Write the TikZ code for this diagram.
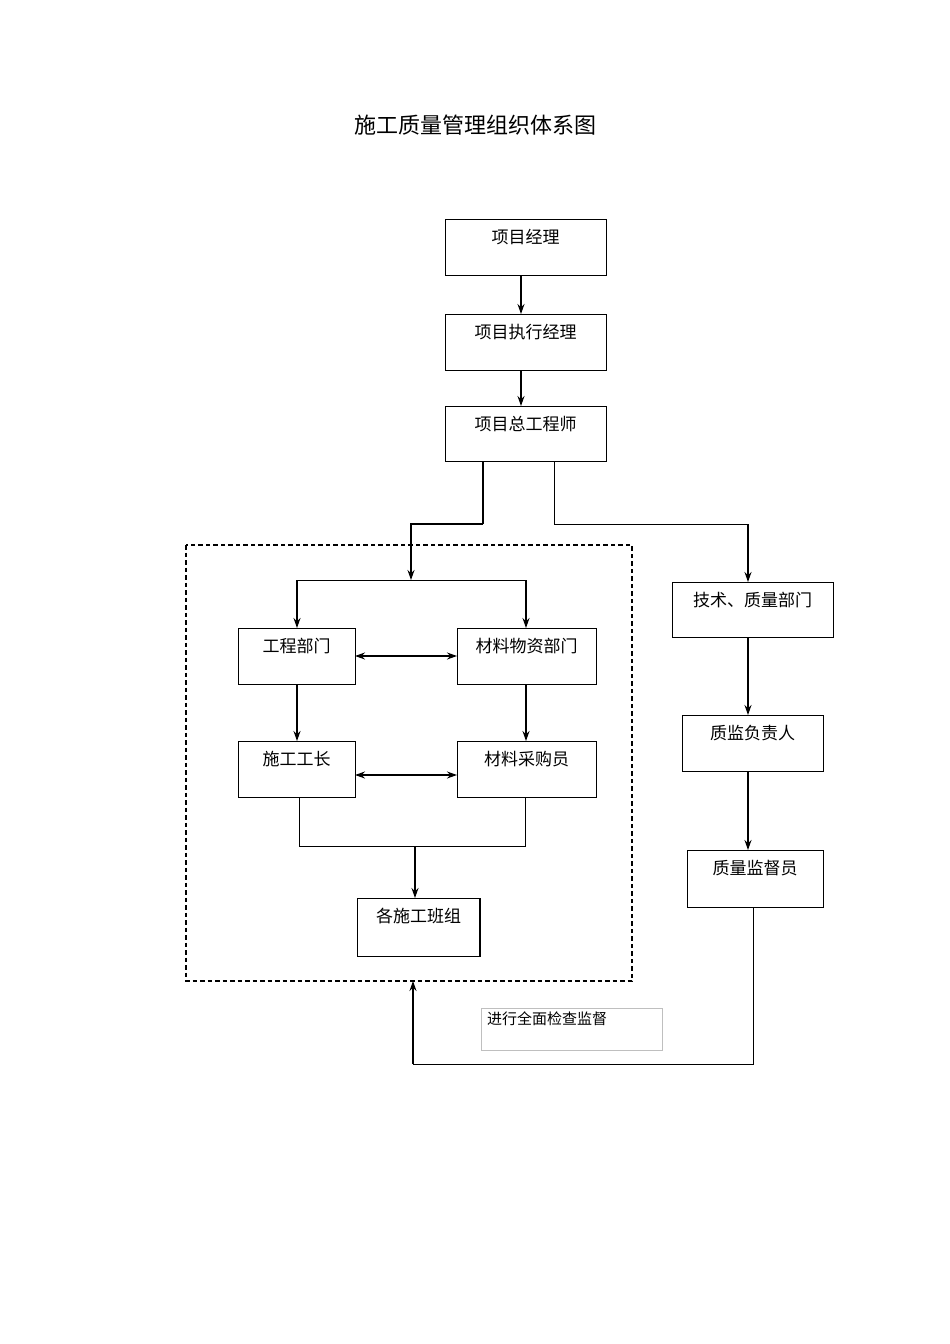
\documentclass[tikz,border=0pt]{standalone}
\usepackage{fontspec}
\setmainfont{Noto Sans CJK SC}
\usetikzlibrary{arrows.meta}
\begin{document}
\begin{tikzpicture}[x=1pt,y=-1pt,
 bx/.style={draw,line width=1pt},
 lb/.style={anchor=north,font=\fontsize{17}{17}\selectfont,inner sep=0pt},
 ar/.style={-{Stealth[length=10pt,width=7pt]},line width=1.3pt},
 ln/.style={line width=1pt}]
\useasboundingbox (0,0) rectangle (950,1344);
\node[font=\fontsize{22}{22}\selectfont] (title) at (475,125) {施工质量管理组织体系图};
\newcommand{\bxx}[6]{\draw[bx] (#2,#3) rectangle (#4,#5); \coordinate (#1) at ({(#2+#4)/2},#3); \node[lb] (#1t) at ({(#2+#4)/2},{#3+10}) {#6};}
\bxx{a}{445}{219}{606}{275}{项目经理}
\bxx{b}{445}{314}{606}{370}{项目执行经理}
\bxx{c}{445}{406}{606}{461}{项目总工程师}
\bxx{d}{238}{628}{355}{684}{工程部门}
\bxx{e}{457}{628}{596}{684}{材料物资部门}
\bxx{f}{238}{741}{355}{797}{施工工长}
\bxx{g}{457}{741}{596}{797}{材料采购员}
\bxx{h}{357}{898}{480}{956}{各施工班组}
\draw[line width=2pt] (480,898)--(480,956);
\bxx{i}{672}{582}{833}{637}{技术、质量部门}
\bxx{j}{682}{715}{823}{771}{质监负责人}
\bxx{k}{687}{850}{823}{907}{质量监督员}
\draw[dash pattern=on 4.5pt off 3pt,line width=1.5pt] (186,545) rectangle (632,981);
\draw[draw=black!25,line width=0.6pt] (481,1008) rectangle (662,1050);
\node[anchor=north west,font=\fontsize{15}{15}\selectfont,inner sep=0pt] (note) at (487,1012) {进行全面检查监督};
\coordinate (p1) at (521,275); \coordinate (p2) at (521,314);
\draw[ar] (p1)--(p2);
\coordinate (p3) at (521,370); \coordinate (p4) at (521,406);
\draw[ar] (p3)--(p4);
\coordinate (q1) at (483,461); \coordinate (q2) at (411,580);
\draw[line width=2pt] (q1)--(483,524);
\draw[ar] (483,524)--(411,524)--(q2);
\draw[ln] (297,580)--(526,580);
\draw[ar] (297,580)--(297,628);
\draw[ar] (526,580)--(526,628);
\coordinate (r1) at (554,461);
\draw[ln] (r1)--(554,524)--(748,524);
\draw[ar] (748,524)--(748,582);
\draw[{Stealth[length=10pt,width=7pt]}-{Stealth[length=10pt,width=7pt]},line width=1.3pt] (355,656)--(457,656);
\draw[{Stealth[length=10pt,width=7pt]}-{Stealth[length=10pt,width=7pt]},line width=1.3pt] (355,775)--(457,775);
\draw[ar] (297,684)--(297,741);
\draw[ar] (526,684)--(526,741);
\draw[ln] (299,797)--(299,846)--(525,846)--(525,797);
\draw[ar] (415,846)--(415,898);
\draw[ar] (748,637)--(748,715);
\draw[ar] (748,771)--(748,850);
\draw[ln] (753,907)--(753,1064)--(413,1064);
\draw[ar] (413,1064)--(413,981);
\end{tikzpicture}
\end{document}
